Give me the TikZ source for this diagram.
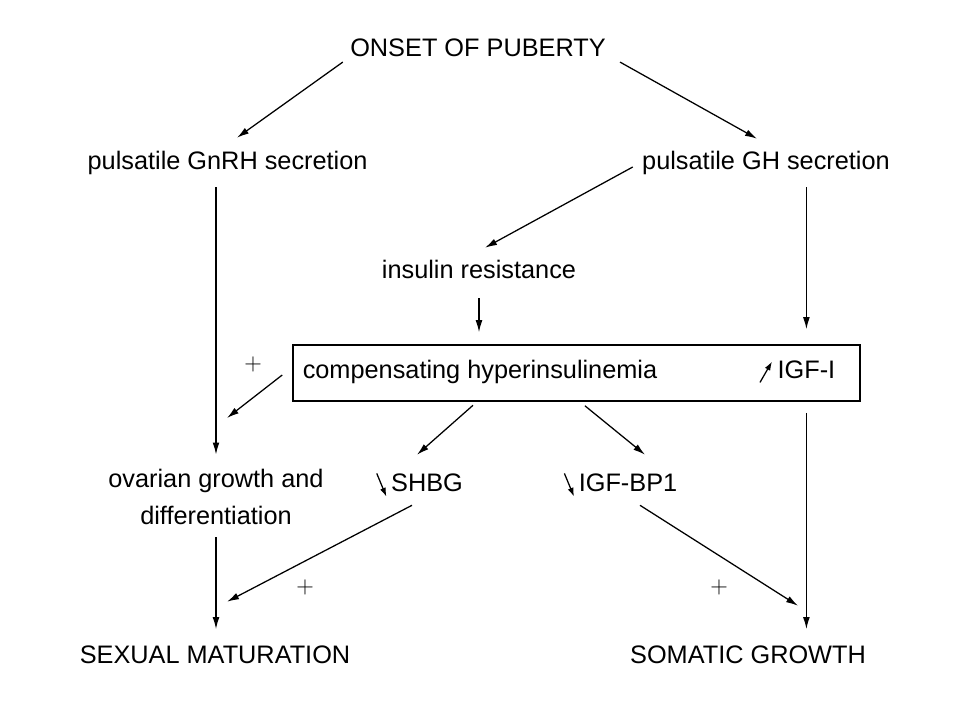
\documentclass[tikz,border=0pt]{standalone}
\usepackage{fontspec}
\setmainfont{Liberation Sans}
\usetikzlibrary{arrows.meta}
\tikzset{
  txt/.style={inner sep=0.05cm, text height=0.46cm, text depth=0.13cm},
  arr/.style={-{Latex[length=0.3cm,width=0.17cm]}, line width=0.9pt},
  tip/.style={-{Latex[length=0.22cm,width=0.15cm]}, line width=0.9pt},
}
\newcommand{\decr}{\tikz[baseline=0pt]\draw[tip] (0,0.58) -- (0.24,0);}
\newcommand{\incr}{\tikz[baseline=0pt]\draw[tip] (0,0) -- (0.3,0.52);}

\begin{document}
\begin{tikzpicture}[font=\fontsize{18pt}{26.3pt}\selectfont]
      \fill[white] (0,0) rectangle (24,18);
      \useasboundingbox (0,0) rectangle (24,18);
      \node[txt] at (11.95,16.75) (onset) {ONSET OF PUBERTY};
      \node[txt] at (5.69,13.925) (gnrh) {pulsatile GnRH secretion};
      \node[txt] at (19.15,13.925) (gh) {pulsatile GH secretion};
      \node[txt] at (11.975,11.2) (insulin) {insulin resistance};
      \node[draw, line width=1.1pt, inner sep=0, minimum width=14.175cm, minimum height=1.4cm] at (14.4125,8.675) (box) {};
      \node[txt] at (12.0,8.7) (hyper) {compensating hyperinsulinemia};
      \node[txt, label={[inner sep=0.06cm]left:\incr}] at (20.16,8.7) (igf) {IGF-I};
      \node[inner sep=0.05cm, align=center] at (5.4,5.565) (ovarian) {ovarian growth and\\differentiation};
      \node[txt, label={[inner sep=0.04cm]left:\decr}] at (10.675,5.875) (shbg) {SHBG};
      \node[txt, label={[inner sep=0.04cm]left:\decr}] at (15.7,5.875) (igfbp) {IGF-BP1};
      \node[txt] at (5.375,1.575) (sexual) {SEXUAL MATURATION};
      \node[txt] at (18.7,1.575) (somatic) {SOMATIC GROWTH};
      \node at (6.325,8.9) (plusa) {$+$};
      \node at (7.625,3.325) (plusb) {$+$};
      \node at (17.975,3.325) (plusc) {$+$};
      \coordinate (meet) at (5.675,7.55);
      \draw[arr] ([xshift=-0.13cm,yshift=0.05cm]onset.south west) -- ([xshift=0.235cm,yshift=0.28cm]gnrh.north);
      \draw[arr] ([xshift=0.3cm,yshift=0.05cm]onset.south east) -- ([xshift=-0.225cm,yshift=0.255cm]gh.north);
      \draw[arr] ([xshift=-0.18cm,yshift=-0.1cm]gh.west) -- ([xshift=0.15cm,yshift=0.255cm]insulin.north);
      \draw[arr, shorten <=0.255cm] (ovarian.north |- gnrh.south) -- ([yshift=0.32cm]ovarian.north);
      \draw[arr, shorten <=0.305cm, shorten >=0.3cm] (insulin.south) -- (insulin.south |- box.north);
      \draw[arr, shorten <=0.255cm, shorten >=0.375cm] (igf.north |- gh.south) -- (igf.north |- box.north);
      \draw[arr] ([xshift=-0.25cm,yshift=-0.05cm]box.west) -- (meet);
      \draw[arr] ([xshift=-0.175cm,yshift=-0.48cm]hyper.south) -- ([xshift=-0.25cm,yshift=0.405cm]shbg.north);
      \draw[arr] ([xshift=0.21cm,yshift=-0.1cm]box.south) -- ([xshift=0.425cm,yshift=0.405cm]igfbp.north);
      \draw[arr, shorten <=0.275cm, shorten >=0.345cm] (igf.north |- box.south) -- (igf.north |- somatic.north);
      \draw[arr, shorten <=0.25cm, shorten >=0.345cm] (ovarian.south) -- (ovarian.south |- sexual.north);
      \draw[arr] ([xshift=-0.375cm,yshift=-0.155cm]shbg.south) -- ([xshift=0.3cm,yshift=1.03cm]sexual.north);
      \draw[arr] ([xshift=0.3cm,yshift=-0.155cm]igfbp.south) -- ([xshift=1.25cm,yshift=0.93cm]somatic.north);
    \end{tikzpicture}
\end{document}
